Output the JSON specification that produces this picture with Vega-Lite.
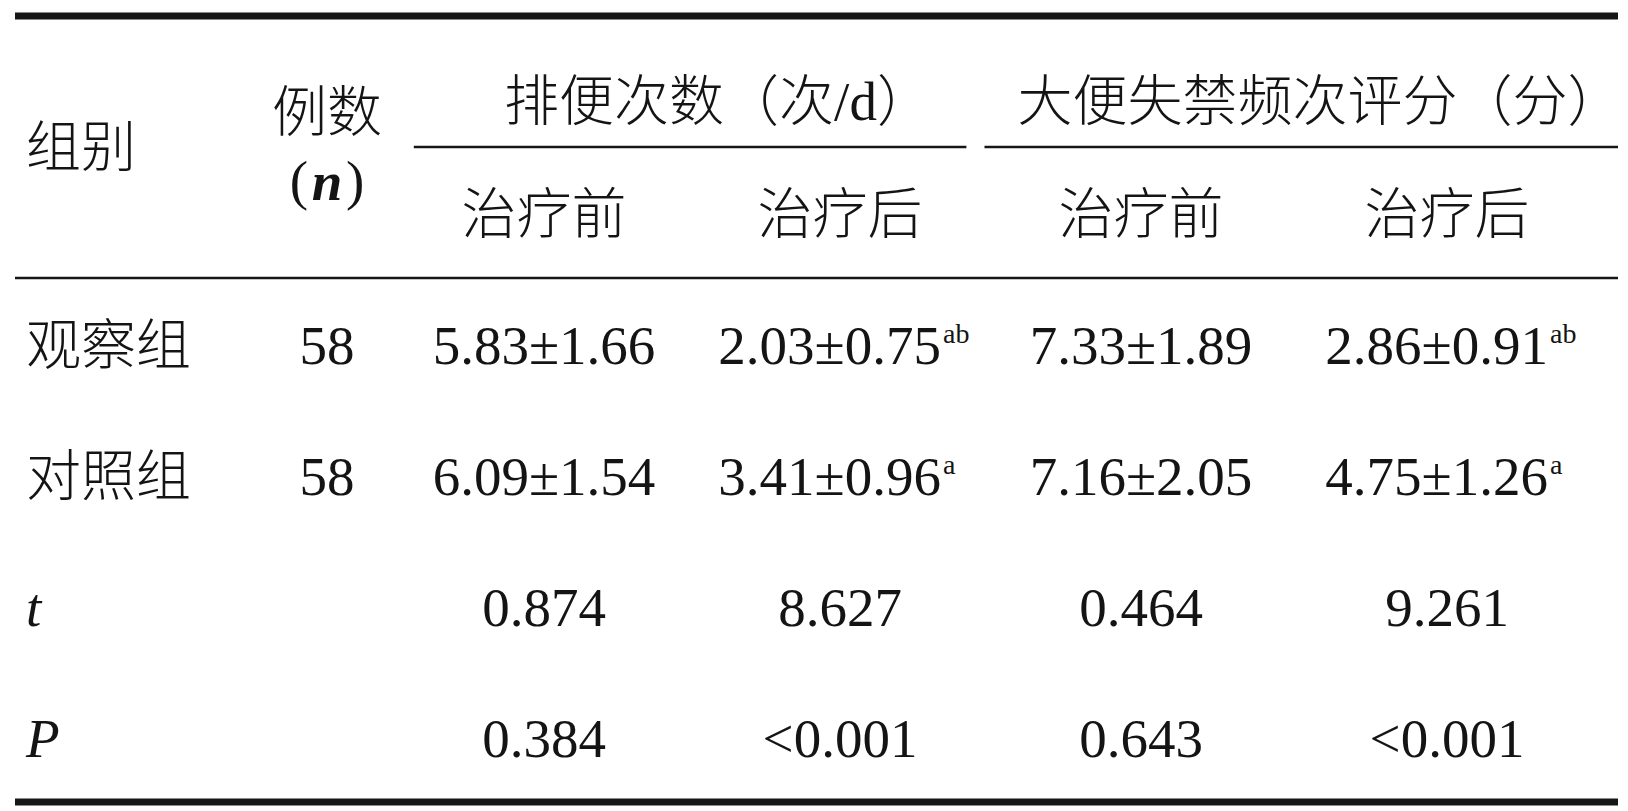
{
  "$schema": "https://vega.github.io/schema/vega-lite/v6.json",
  "width": 1628,
  "height": 811,
  "padding": 0,
  "autosize": "none",
  "background": "white",
  "config": {
    "view": {"stroke": null},
    "text": {"font": "Liberation Serif, Noto Sans CJK SC", "fontSize": 55, "fontWeight": 300, "color": "#141414", "baseline": "alphabetic"}
  },
  "datasets": {
    "cells": [
      {"row": "h1", "col": 1, "text": "组别", "role": "g"},
      {"row": "h1", "col": 2, "text": "例数", "role": "n1"},
      {"row": "h1", "col": 2, "text": "(", "role": "lp"},
      {"row": "h1", "col": 2, "text": "n", "role": "n3"},
      {"row": "h1", "col": 2, "text": ")", "role": "rp"},
      {"row": "h1", "col": 3.5, "text": "排便次数（次/d）", "role": "span"},
      {"row": "h1", "col": 5.5, "text": "大便失禁频次评分（分）", "role": "span"},
      {"row": "h2", "col": 3, "text": "治疗前", "role": "c"},
      {"row": "h2", "col": 4, "text": "治疗后", "role": "c"},
      {"row": "h2", "col": 5, "text": "治疗前", "role": "c"},
      {"row": "h2", "col": 6, "text": "治疗后", "role": "c"},
      {"row": "r1", "col": 1, "text": "观察组", "role": "l"},
      {"row": "r1", "col": 2, "text": "58", "role": "c"},
      {"row": "r1", "col": 3, "text": "5.83±1.66", "role": "c"},
      {"row": "r1", "col": 4, "text": "2.03±0.75", "sup": "ab", "role": "s"},
      {"row": "r1", "col": 5, "text": "7.33±1.89", "role": "c"},
      {"row": "r1", "col": 6, "text": "2.86±0.91", "sup": "ab", "role": "s"},
      {"row": "r2", "col": 1, "text": "对照组", "role": "l"},
      {"row": "r2", "col": 2, "text": "58", "role": "c"},
      {"row": "r2", "col": 3, "text": "6.09±1.54", "role": "c"},
      {"row": "r2", "col": 4, "text": "3.41±0.96", "sup": "a", "role": "s"},
      {"row": "r2", "col": 5, "text": "7.16±2.05", "role": "c"},
      {"row": "r2", "col": 6, "text": "4.75±1.26", "sup": "a", "role": "s"},
      {"row": "r3", "col": 1, "text": "t", "role": "i"},
      {"row": "r3", "col": 3, "text": "0.874", "role": "c"},
      {"row": "r3", "col": 4, "text": "8.627", "role": "c"},
      {"row": "r3", "col": 5, "text": "0.464", "role": "c"},
      {"row": "r3", "col": 6, "text": "9.261", "role": "c"},
      {"row": "r4", "col": 1, "text": "P", "role": "i"},
      {"row": "r4", "col": 3, "text": "0.384", "role": "c"},
      {"row": "r4", "col": 4, "text": "<0.001", "role": "c"},
      {"row": "r4", "col": 5, "text": "0.643", "role": "c"},
      {"row": "r4", "col": 6, "text": "<0.001", "role": "c"}
    ],
    "rules": [
      {"row": "h1", "edge": "top", "from": 0, "to": 7, "weight": "heavy"},
      {"row": "h1", "edge": "bottom", "from": 2.4, "to": 4.42, "weight": "light"},
      {"row": "h1", "edge": "bottom", "from": 4.48, "to": 7, "weight": "light"},
      {"row": "h2", "edge": "bottom", "from": 0, "to": 7, "weight": "light"},
      {"row": "r4", "edge": "bottom", "from": 0, "to": 7, "weight": "heavy"}
    ]
  },
  "encoding": {
    "x": {
      "field": "col", "type": "quantitative", "axis": null,
      "scale": {"domain": [0, 1, 2, 3, 4, 5, 6, 7], "range": [15, 26, 327, 544, 840, 1141, 1447, 1618], "nice": false, "zero": false}
    },
    "y": {
      "field": "row", "type": "nominal", "axis": null,
      "scale": {"type": "band", "domain": ["h1", "h2", "r1", "r2", "r3", "r4"], "range": [16, 802], "paddingInner": 0, "paddingOuter": 0}
    }
  },
  "layer": [
    {
      "data": {"name": "rules"},
      "transform": [{"filter": "datum.edge == 'top'"}],
      "mark": {"type": "rule", "color": "#161616"},
      "encoding": {
        "x": {"field": "from", "type": "quantitative"},
        "x2": {"field": "to"},
        "y": {"field": "row", "type": "nominal", "bandPosition": 0},
        "strokeWidth": {"field": "weight", "type": "nominal", "scale": {"domain": ["heavy", "light"], "range": [7, 2.5]}, "legend": null}
      }
    },
    {
      "data": {"name": "rules"},
      "transform": [{"filter": "datum.edge == 'bottom'"}],
      "mark": {"type": "rule", "color": "#161616"},
      "encoding": {
        "x": {"field": "from", "type": "quantitative"},
        "x2": {"field": "to"},
        "y": {"field": "row", "type": "nominal", "bandPosition": 1},
        "strokeWidth": {"field": "weight", "type": "nominal", "scale": {"domain": ["heavy", "light"], "range": [7, 2.5]}, "legend": null}
      }
    },
    {
      "data": {"name": "cells"},
      "transform": [{"filter": "datum.role == 'c'"}],
      "mark": {"type": "text", "align": "center", "dy": 20},
      "encoding": {"text": {"field": "text", "type": "nominal"}}
    },
    {
      "data": {"name": "cells"},
      "transform": [{"filter": "datum.role == 's'"}],
      "mark": {"type": "text", "align": "right", "dx": 101, "dy": 20},
      "encoding": {"text": {"field": "text", "type": "nominal"}}
    },
    {
      "data": {"name": "cells"},
      "transform": [{"filter": "datum.role == 's'"}],
      "mark": {"type": "text", "align": "left", "dx": 103, "dy": -1, "fontSize": 28},
      "encoding": {"text": {"field": "sup", "type": "nominal"}}
    },
    {
      "data": {"name": "cells"},
      "transform": [{"filter": "datum.role == 'l'"}],
      "mark": {"type": "text", "align": "left", "dy": 20},
      "encoding": {"text": {"field": "text", "type": "nominal"}}
    },
    {
      "data": {"name": "cells"},
      "transform": [{"filter": "datum.role == 'i'"}],
      "mark": {"type": "text", "align": "left", "dy": 20, "fontStyle": "italic"},
      "encoding": {"text": {"field": "text", "type": "nominal"}}
    },
    {
      "data": {"name": "cells"},
      "transform": [{"filter": "datum.role == 'span'"}],
      "mark": {"type": "text", "align": "center", "dx": 26, "dy": 38},
      "encoding": {"text": {"field": "text", "type": "nominal"}}
    },
    {
      "data": {"name": "cells"},
      "transform": [{"filter": "datum.role == 'g'"}],
      "mark": {"type": "text", "align": "left", "dy": 19},
      "encoding": {
        "y": {"field": "row", "type": "nominal", "bandPosition": 1},
        "text": {"field": "text", "type": "nominal"}
      }
    },
    {
      "data": {"name": "cells"},
      "transform": [{"filter": "datum.role == 'n1'"}],
      "mark": {"type": "text", "align": "center", "dy": -16},
      "encoding": {
        "y": {"field": "row", "type": "nominal", "bandPosition": 1},
        "text": {"field": "text", "type": "nominal"}
      }
    },
    {
      "data": {"name": "cells"},
      "transform": [{"filter": "datum.role == 'lp'"}],
      "mark": {"type": "text", "align": "right", "dx": -19, "dy": 52},
      "encoding": {
        "y": {"field": "row", "type": "nominal", "bandPosition": 1},
        "text": {"field": "text", "type": "nominal"}
      }
    },
    {
      "data": {"name": "cells"},
      "transform": [{"filter": "datum.role == 'rp'"}],
      "mark": {"type": "text", "align": "left", "dx": 19, "dy": 52},
      "encoding": {
        "y": {"field": "row", "type": "nominal", "bandPosition": 1},
        "text": {"field": "text", "type": "nominal"}
      }
    },
    {
      "data": {"name": "cells"},
      "transform": [{"filter": "datum.role == 'n3'"}],
      "mark": {"type": "text", "align": "center", "dy": 53, "fontStyle": "italic", "fontWeight": "bold"},
      "encoding": {
        "y": {"field": "row", "type": "nominal", "bandPosition": 1},
        "text": {"field": "text", "type": "nominal"}
      }
    }
  ]
}
